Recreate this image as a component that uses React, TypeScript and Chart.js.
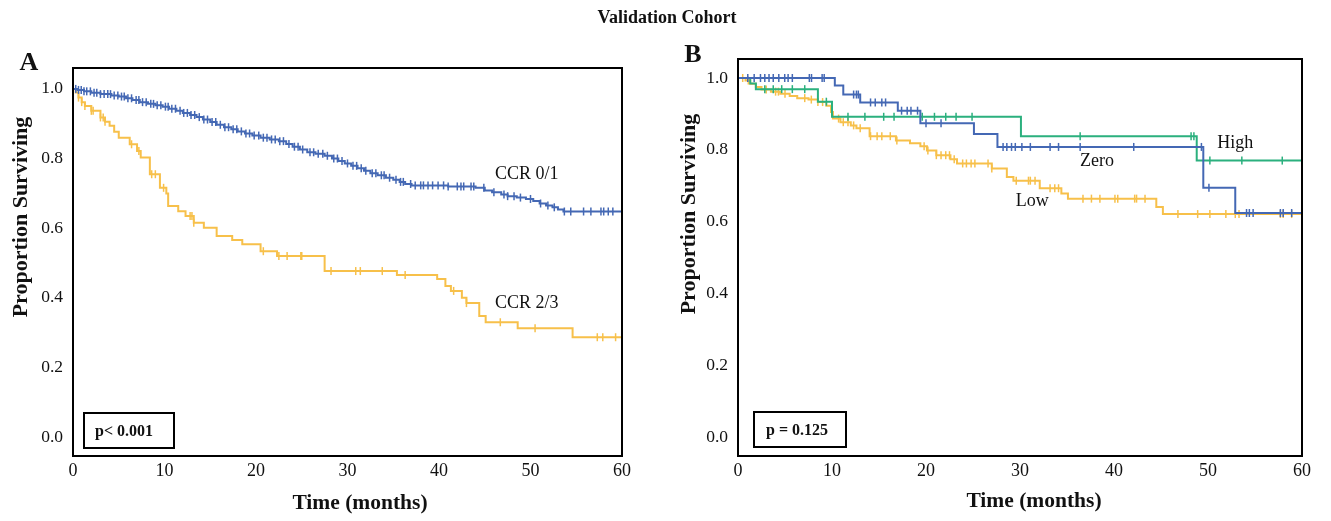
import React, { useEffect, useRef } from "react";
import { Chart, registerables } from "chart.js";

Chart.register(...registerables);

type Steps = [number, number][];

const SERIF = '"Liberation Serif", "Times New Roman", serif';

// ---------- shared axis ticks ----------
const monthTicks = [0, 10, 20, 30, 40, 50, 60];
const survivalTicks = [0, 0.2, 0.4, 0.6, 0.8, 1.0];

// ---------- Panel A : CCR groups ----------
const ccr01Steps: Steps = [
  [0, 1.0], [0.5, 0.997], [1.2, 0.993], [2.0, 0.989], [3.0, 0.985], [4.2, 0.981], [5.0, 0.978],
  [5.8, 0.973], [6.5, 0.968], [7.3, 0.962], [8.2, 0.957], [9.0, 0.953], [9.8, 0.949], [10.5, 0.943],
  [11.3, 0.937], [12.0, 0.931], [12.8, 0.925], [13.5, 0.919], [14.2, 0.912], [15.0, 0.905], [15.7, 0.897],
  [16.5, 0.89], [17.3, 0.884], [18.0, 0.878], [18.8, 0.872], [19.6, 0.866], [20.5, 0.86], [21.5, 0.855],
  [22.5, 0.85], [23.3, 0.842], [24.0, 0.834], [24.8, 0.826], [25.6, 0.818], [26.5, 0.814], [27.5, 0.808],
  [28.3, 0.8], [29.0, 0.793], [29.7, 0.786], [30.4, 0.779], [31.1, 0.772], [31.8, 0.765], [32.5, 0.758],
  [33.3, 0.752], [34.2, 0.745], [35.0, 0.739], [35.7, 0.733], [36.3, 0.727], [37.0, 0.723], [41.0, 0.72],
  [44.0, 0.716], [45.0, 0.708], [45.8, 0.703], [46.8, 0.697], [47.5, 0.692], [48.5, 0.688], [49.5, 0.684],
  [50.3, 0.678], [51.0, 0.671], [51.7, 0.665], [52.4, 0.66], [53.0, 0.654], [53.6, 0.648], [60, 0.648],
];
const ccr01Censor = [
  0.3, 0.6, 0.9, 1.2, 1.5, 1.9, 2.3, 2.6, 3.0, 3.4, 3.8, 4.1, 4.5, 4.9, 5.3, 5.6, 6.0, 6.4, 6.9, 7.2, 7.6,
  8.0, 8.5, 8.8, 9.2, 9.6, 10.1, 10.4, 10.8, 11.2, 11.7, 12.1, 12.5, 12.9, 13.3, 13.8, 14.3, 14.7, 15.2,
  15.6, 16.1, 16.6, 17.0, 17.5, 17.9, 18.4, 18.9, 19.3, 19.8, 20.3, 20.8, 21.2, 21.7, 22.1, 22.6, 23.0,
  23.6, 24.2, 24.6, 25.1, 25.9, 26.3, 26.8, 27.3, 27.8, 28.5, 28.9, 29.4, 30.0, 30.6, 31.0, 31.5, 32.0,
  32.7, 33.1, 33.7, 34.0, 34.6, 35.3, 35.8, 36.1, 36.9, 37.4, 38.0, 38.3, 38.8, 39.3, 39.9, 40.5, 41.0,
  42.0, 42.4, 42.7, 43.5, 43.8, 44.9, 46.0, 47.1, 47.5, 48.2, 48.9, 50.0, 51.1, 51.9, 52.6, 53.7, 54.4,
  55.8, 56.6, 57.7, 58.0, 58.5, 59.0,
];
const ccr23Steps: Steps = [
  [0, 1.0], [0.3, 0.99], [0.6, 0.975], [0.95, 0.962], [1.3, 0.951], [2.0, 0.937], [3.0, 0.918],
  [3.5, 0.906], [4.0, 0.894], [4.5, 0.877], [5.0, 0.86], [6.2, 0.841], [7.0, 0.822], [7.4, 0.803],
  [8.4, 0.755], [9.5, 0.716], [10.2, 0.7], [10.4, 0.664], [11.5, 0.649], [12.3, 0.635], [13.2, 0.616],
  [14.3, 0.601], [15.7, 0.578], [17.4, 0.566], [18.5, 0.554], [20.5, 0.534], [22.3, 0.52], [27.5, 0.477],
  [35.4, 0.466], [39.8, 0.454], [40.7, 0.434], [41.3, 0.42], [42.5, 0.4], [43.0, 0.385], [44.4, 0.348],
  [45.1, 0.33], [48.6, 0.313], [54.6, 0.287], [60, 0.287],
];
const ccr23Censor = [
  0.6, 0.95, 1.3, 2.0, 2.2, 3.0, 3.3, 3.5, 6.4, 7.2, 8.6, 9.0, 9.9, 12.8, 13.0, 13.2, 20.8, 22.5, 23.4,
  24.9, 25.0, 28.2, 30.9, 31.4, 33.8, 36.3, 41.6, 43.0, 46.7, 50.5, 57.3, 57.9, 59.3,
];

// ---------- Panel B : Zero / Low / High ----------
const highSteps: Steps = [
  [0, 1.0], [1.3, 0.985], [1.9, 0.969], [8.5, 0.934], [10.0, 0.892], [30.1, 0.838], [48.8, 0.77], [60, 0.77],
];
const highCensor = [
  2.85, 3.75, 4.65, 5.78, 7.1, 9.4, 11.7, 13.5, 15.5, 16.6, 19.6, 20.9, 22.1, 23.2, 24.9, 36.4, 48.2,
  48.5, 50.2, 53.6, 57.9,
];
const zeroSteps: Steps = [
  [0, 1.0], [10.3, 0.979], [11.2, 0.954], [13.0, 0.932], [17.0, 0.909], [19.4, 0.874], [25.1, 0.844],
  [27.6, 0.808], [49.5, 0.694], [52.9, 0.624], [60, 0.624],
];
const zeroCensor = [
  1.04, 1.72, 2.39, 2.85, 3.3, 3.75, 4.34, 4.97, 5.33, 5.78, 7.59, 7.82, 8.95, 9.17, 12.3, 12.6, 12.8,
  14.1, 14.6, 15.3, 15.7, 17.4, 18.0, 18.4, 19.1, 20.0, 21.6, 28.2, 28.6, 29.1, 29.5, 30.2, 31.1, 33.2,
  34.1, 36.4, 42.1, 49.3, 50.1, 54.1, 54.4, 54.8, 57.7, 58.0, 58.9,
];
const lowSteps: Steps = [
  [0, 1.0], [0.8, 0.993], [1.3, 0.984], [1.9, 0.975], [2.5, 0.968], [3.5, 0.962], [4.5, 0.956],
  [5.5, 0.95], [6.3, 0.944], [7.5, 0.94], [8.5, 0.933], [9.4, 0.923], [9.9, 0.905], [10.1, 0.887],
  [10.9, 0.877], [12.0, 0.868], [12.6, 0.86], [14.0, 0.838], [16.8, 0.826], [18.3, 0.818], [19.4, 0.81],
  [20.1, 0.798], [21.1, 0.785], [22.6, 0.774], [23.3, 0.762], [27.0, 0.748], [28.6, 0.724], [29.3, 0.714],
  [32.1, 0.693], [34.4, 0.678], [35.1, 0.664], [44.5, 0.641], [45.2, 0.621], [60, 0.621],
];
const lowCensor = [
  0.5, 1.1, 3.0, 4.0, 4.3, 5.0, 7.1, 7.8, 8.5, 9.0, 10.7, 11.2, 11.7, 12.3, 13.0, 14.1, 14.8, 15.3, 16.2,
  16.9, 19.8, 20.2, 21.1, 21.6, 22.1, 22.5, 23.0, 23.9, 24.3, 24.8, 25.2, 26.6, 27.0, 29.6, 30.9, 31.1,
  31.6, 33.2, 33.7, 34.1, 36.7, 37.6, 38.5, 40.1, 40.4, 42.2, 42.4, 43.3, 46.8, 48.9, 50.2, 51.9, 52.9,
  53.3, 57.7, 58.0, 58.9,
];

const BLUE = "#4468b4";
const GOLD = "#f7c04a";
const GREEN = "#2bb07e";

function survivalAt(steps: Steps, t: number): number {
  let v = steps[0][1];
  for (const [time, s] of steps) {
    if (time <= t) v = s;
    else break;
  }
  return v;
}

interface Curve {
  steps: Steps;
  censor: number[];
  color: string;
  label: string;
  labelAt: [number, number];
  order: number;
}

interface PanelSpec {
  width: number;
  letter: string;
  letterPos: [number, number];
  curves: Curve[];
  pText: string;
  pBox: [number, number, number, number];
  pTextX: number;
  yMin: number;
  yMax: number;
  padRight: number;
  padTop: number;
  yAxisWidth: number;
  xAxisHeight: number;
  yTitlePos: [number, number];
  xTitlePos: [number, number];
}

const panelA: PanelSpec = {
  width: 666,
  letter: "A",
  letterPos: [29, 63],
  curves: [
    { steps: ccr01Steps, censor: ccr01Censor, color: BLUE, label: "CCR 0/1", labelAt: [49.6, 0.756], order: 1 },
    { steps: ccr23Steps, censor: ccr23Censor, color: GOLD, label: "CCR 2/3", labelAt: [49.6, 0.385], order: 2 },
  ],
  pText: "p< 0.001",
  pBox: [84, 413, 174, 448],
  pTextX: 95,
  yMin: -0.054,
  yMax: 1.06,
  padRight: 44,
  padTop: 68,
  yAxisWidth: 73,
  xAxisHeight: 65,
  yTitlePos: [21, 217],
  xTitlePos: [360, 503],
};

const panelB: PanelSpec = {
  width: 665,
  letter: "B",
  letterPos: [27, 55],
  curves: [
    { steps: zeroSteps, censor: zeroCensor, color: BLUE, label: "Zero", labelAt: [38.2, 0.767], order: 1 },
    { steps: highSteps, censor: highCensor, color: GREEN, label: "High", labelAt: [52.9, 0.817], order: 2 },
    { steps: lowSteps, censor: lowCensor, color: GOLD, label: "Low", labelAt: [31.3, 0.656], order: 3 },
  ],
  pText: "p = 0.125",
  pBox: [88, 412, 180, 447],
  pTextX: 100,
  yMin: -0.053,
  yMax: 1.053,
  padRight: 29,
  padTop: 59,
  yAxisWidth: 72,
  xAxisHeight: 65,
  yTitlePos: [23, 214],
  xTitlePos: [368, 501],
};

function buildChart(canvas: HTMLCanvasElement, p: PanelSpec): Chart {
  const datasets: any[] = [];
  p.curves.forEach((c) => {
    datasets.push({
      label: c.label,
      data: c.steps.map(([t, s]) => ({ x: t, y: s })),
      stepped: "before",
      borderColor: c.color,
      borderWidth: 2,
      pointRadius: 0,
      fill: false,
      order: c.order,
    });
    datasets.push({
      label: c.label + " censored",
      data: c.censor.map((t) => ({ x: t, y: survivalAt(c.steps, t) })),
      showLine: false,
      borderColor: c.color,
      pointStyle: "line",
      pointRotation: 90,
      pointRadius: 4,
      pointBorderWidth: 1.5,
      pointBorderColor: c.color,
      order: c.order,
    });
  });

  const decor = {
    id: "panelDecor",
    afterDraw(chart: any) {
      const { ctx, chartArea: ca, scales } = chart;
      const xs = scales.x;
      const ys = scales.y;
      ctx.save();
      // frame
      ctx.strokeStyle = "#000";
      ctx.lineWidth = 2;
      ctx.strokeRect(ca.left, ca.top, ca.right - ca.left, ca.bottom - ca.top);
      // p-value box
      const [bx0, by0, bx1, by1] = p.pBox;
      ctx.lineWidth = 2;
      ctx.strokeRect(bx0, by0, bx1 - bx0, by1 - by0);
      ctx.fillStyle = "#111";
      ctx.font = `bold 16px ${SERIF}`;
      ctx.textAlign = "left";
      ctx.textBaseline = "middle";
      ctx.fillText(p.pText, p.pTextX, (by0 + by1) / 2 + 1);
      // curve labels
      ctx.font = `18px ${SERIF}`;
      ctx.textAlign = "center";
      p.curves.forEach((c) => {
        ctx.fillText(c.label, xs.getPixelForValue(c.labelAt[0]), ys.getPixelForValue(c.labelAt[1]));
      });
      // panel letter
      ctx.font = `bold 26px ${SERIF}`;
      ctx.fillText(p.letter, p.letterPos[0], p.letterPos[1]);
      // axis titles
      ctx.font = `bold 21.5px ${SERIF}`;
      ctx.fillText("Time (months)", p.xTitlePos[0], p.xTitlePos[1]);
      ctx.font = `bold 22px ${SERIF}`;
      ctx.translate(p.yTitlePos[0], p.yTitlePos[1]);
      ctx.rotate(-Math.PI / 2);
      ctx.fillText("Proportion Surviving", 0, 0);
      ctx.restore();
    },
  };

  return new Chart(canvas, {
    type: "line",
    data: { datasets },
    options: {
      animation: false,
      responsive: false,
      maintainAspectRatio: false,
      devicePixelRatio: 1,
      layout: { padding: { left: 0, right: p.padRight, top: p.padTop, bottom: 0 } },
      plugins: {
        legend: { display: false },
        tooltip: { enabled: false },
        title: { display: false },
      },
      scales: {
        x: {
          type: "linear",
          min: 0,
          max: 60,
          grid: { display: false, drawTicks: false },
          border: { display: false },
          ticks: {
            font: { family: SERIF, size: 18 },
            color: "#111",
            padding: 4,
            maxRotation: 0,
            autoSkip: false,
            callback: (v: any) => String(v),
          },
          afterBuildTicks: (s: any) => {
            s.ticks = monthTicks.map((v) => ({ value: v }));
          },
          afterFit: (s: any) => {
            s.height = p.xAxisHeight;
          },
        },
        y: {
          type: "linear",
          min: p.yMin,
          max: p.yMax,
          grid: { display: false, drawTicks: false },
          border: { display: false },
          ticks: {
            font: { family: SERIF, size: 17.5 },
            color: "#111",
            padding: 10,
            autoSkip: false,
            callback: (v: any) => Number(v).toFixed(1),
          },
          afterBuildTicks: (s: any) => {
            s.ticks = survivalTicks.map((v) => ({ value: v }));
          },
          afterFit: (s: any) => {
            s.width = p.yAxisWidth;
          },
        },
      },
    } as any,
    plugins: [decor],
  });
}

function Panel({ spec, left }: { spec: PanelSpec; left: number }) {
  const ref = useRef<HTMLCanvasElement | null>(null);
  useEffect(() => {
    if (!ref.current) return;
    const chart = buildChart(ref.current, spec);
    return () => chart.destroy();
  }, [spec]);
  return (
    <canvas
      ref={ref}
      width={spec.width}
      height={521}
      style={{ position: "absolute", left, top: 0, width: spec.width, height: 521 }}
    />
  );
}

export default function App() {
  return (
    <div
      style={{
        position: "fixed",
        left: 0,
        top: 0,
        width: 1331,
        height: 521,
        background: "#fff",
        overflow: "hidden",
      }}
    >
      <Panel spec={panelA} left={0} />
      <Panel spec={panelB} left={666} />
      <div
        style={{
          position: "absolute",
          left: 0,
          top: 6,
          width: 1334,
          textAlign: "center",
          fontFamily: SERIF,
          fontWeight: "bold",
          fontSize: 18,
          lineHeight: "22px",
          color: "#111",
        }}
      >
        Validation Cohort
      </div>
    </div>
  );
}
